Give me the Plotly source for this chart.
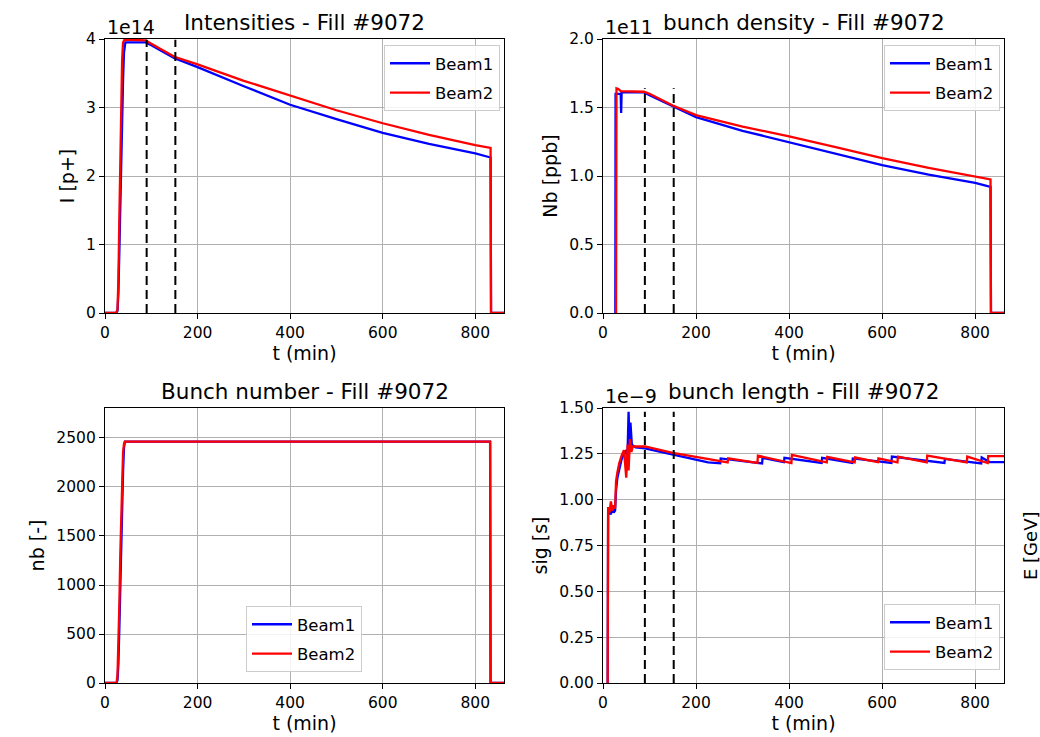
import plotly.graph_objects as go

# ---------------- data ----------------
FILL = "9072"
x_ticks = [0, 200, 400, 600, 800]
t_markers = [90, 152]            # dashed vertical markers (min)

# Intensities (units of 1e14 p+)
t_int_b1 = [0, 24, 27, 29, 31, 33, 35, 37, 39, 41, 44, 88, 100, 150, 200, 300, 400, 500, 600, 700, 800, 833, 834, 862]
int_b1 = [0, 0, 0.03, 0.3, 0.9, 1.6, 2.3, 2.9, 3.4, 3.8, 3.95, 3.95, 3.91, 3.72, 3.59, 3.31, 3.04, 2.83, 2.63, 2.47, 2.33, 2.27, 0, 0]
t_int_b2 = [0, 24, 27, 29, 31, 33, 35, 37, 39, 42, 88, 100, 150, 200, 300, 400, 500, 600, 700, 800, 833, 834, 862]
int_b2 = [0, 0, 0.05, 0.5, 1.4, 2.3, 3.1, 3.7, 3.95, 3.99, 3.98, 3.93, 3.74, 3.63, 3.39, 3.17, 2.96, 2.77, 2.60, 2.45, 2.41, 0, 0]

# Bunch density (units of 1e11 ppb)
t_nb_b1 = [26.5, 27, 38, 39, 40, 88, 100, 150, 200, 300, 400, 500, 600, 700, 800, 833, 834, 862]
dens_b1 = [0, 1.60, 1.60, 1.46, 1.61, 1.61, 1.59, 1.51, 1.43, 1.33, 1.245, 1.16, 1.08, 1.01, 0.95, 0.92, 0, 0]
t_nb_b2 = [28, 29, 33, 38, 88, 100, 150, 200, 300, 400, 500, 600, 700, 800, 833, 834, 862]
dens_b2 = [0, 1.64, 1.635, 1.62, 1.615, 1.60, 1.515, 1.445, 1.36, 1.29, 1.21, 1.13, 1.06, 1.00, 0.975, 0, 0]

# Bunch number
t_n_b1 = [0, 25, 27, 29, 31, 33, 35, 37, 39, 41, 43, 832, 833, 862]
num_b1 = [0, 0, 30, 200, 560, 1000, 1500, 1800, 2150, 2400, 2462, 2462, 0, 0]
t_n_b2 = [0, 25, 27, 29, 31, 33, 35, 37, 39, 41, 43, 832, 833, 862]
num_b2 = [0, 0, 80, 350, 800, 1300, 1750, 2100, 2350, 2440, 2462, 2462, 0, 0]

# Bunch length (units of 1e-9 s)
t_bl_b1 = [10, 11, 14, 17, 20, 23, 26, 28, 31, 35, 40, 45, 50, 52, 55, 57, 59, 62, 66, 70, 90, 151, 226,
           252, 253, 342, 343, 389, 390, 470, 471, 536, 537, 620, 621, 734, 735, 813, 814, 831, 862]
bl_b1 = [0, 0.92, 0.93, 0.92, 0.95, 0.93, 0.94, 1.05, 1.12, 1.17, 1.22, 1.25, 1.27, 1.18, 1.48, 1.30, 1.42, 1.30, 1.29, 1.285, 1.28, 1.245, 1.203,
         1.198, 1.225, 1.198, 1.228, 1.205, 1.228, 1.200, 1.228, 1.200, 1.225, 1.200, 1.235, 1.200, 1.222, 1.198, 1.230, 1.205, 1.205]
t_bl_b2 = [10, 11, 14, 17, 20, 23, 26, 28, 31, 35, 40, 45, 50, 53, 55, 58, 61, 64, 70, 90, 150, 226,
           268, 269, 332, 333, 405, 406, 481, 482, 541, 542, 591, 592, 633, 634, 696, 697, 782, 783, 827, 828, 862]
bl_b2 = [0, 0.96, 0.93, 0.99, 0.94, 0.97, 0.95, 1.10, 1.15, 1.20, 1.24, 1.27, 1.12, 1.30, 1.16, 1.33, 1.26, 1.29, 1.29, 1.29, 1.255, 1.222,
         1.203, 1.225, 1.200, 1.240, 1.200, 1.244, 1.203, 1.233, 1.203, 1.230, 1.205, 1.225, 1.203, 1.235, 1.203, 1.240, 1.203, 1.235, 1.200, 1.237, 1.237]

panels = [
    dict(title="Intensities - Fill #" + FILL, ylabel="I [p+]", offset="1e14",
         b1=(t_int_b1, int_b1), b2=(t_int_b2, int_b2), yrange=[0, 4], ytick=[0, 1, 2, 3, 4], fmt="d", markers=True),
    dict(title="bunch density - Fill #" + FILL, ylabel="Nb [ppb]", offset="1e11",
         b1=(t_nb_b1, dens_b1), b2=(t_nb_b2, dens_b2), yrange=[0, 2.0], ytick=[0, 0.5, 1.0, 1.5, 2.0], fmt=".1f", markers=True),
    dict(title="Bunch number - Fill #" + FILL, ylabel="nb [-]", offset="",
         b1=(t_n_b1, num_b1), b2=(t_n_b2, num_b2), yrange=[0, 2806], ytick=[0, 500, 1000, 1500, 2000, 2500], fmt="d", markers=False),
    dict(title="bunch length - Fill #" + FILL, ylabel="sig [s]", offset="1e\u22129",
         b1=(t_bl_b1, bl_b1), b2=(t_bl_b2, bl_b2), yrange=[0, 1.5], ytick=[0, 0.25, 0.5, 0.75, 1.0, 1.25, 1.5], fmt=".2f", markers=True),
]

# ---------------- layout geometry (pixels) ----------------
W, H = 1040, 737
x_dom_px = [(105, 504), (603, 1004), (105, 504), (603, 1004)]
y_dom_px = [(39, 313), (39, 313), (408, 683), (408, 683)]
legend_pos = [
    dict(x=500 / W, xanchor="right", y=1 - 45 / H, yanchor="top"),
    dict(x=1000 / W, xanchor="right", y=1 - 45 / H, yanchor="top"),
    dict(x=304 / W, xanchor="center", y=1 - 672 / H, yanchor="bottom"),
    dict(x=1000 / W, xanchor="right", y=1 - 670 / H, yanchor="bottom"),
]

FONT = "DejaVu Sans"
BLUE, RED = "#0000ff", "#ff0000"

fig = go.Figure()
layout = dict(width=W, height=H, margin=dict(l=0, r=0, t=0, b=0),
              paper_bgcolor="white", plot_bgcolor="white",
              font=dict(family=FONT, size=15, color="black"), showlegend=True)
annotations = []

for i, p in enumerate(panels):
    n = i + 1
    xa = "x" if n == 1 else f"x{n}"
    ya = "y" if n == 1 else f"y{n}"
    lg = "legend" if n == 1 else f"legend{n}"
    for name, key, col in (("Beam1", "b1", BLUE), ("Beam2", "b2", RED)):
        tx, vy = p[key]
        fig.add_trace(go.Scatter(x=tx, y=vy, mode="lines", name=name,
                                 line=dict(color=col, width=2.3),
                                 xaxis=xa, yaxis=ya, legend=lg,
                                 legendgroup=f"{n}{name}"))
    if p["markers"]:
        ymax = max(max(p["b1"][1]), max(p["b2"][1]))
        for tm in t_markers:
            fig.add_trace(go.Scatter(x=[tm, tm], y=[0, ymax], mode="lines",
                                     line=dict(color="black", width=2, dash="9px,5px"),
                                     xaxis=xa, yaxis=ya, showlegend=False, hoverinfo="skip"))
    x0, x1 = x_dom_px[i]
    y0, y1 = y_dom_px[i]
    axis_common = dict(showline=True, linecolor="black", linewidth=1.2, mirror=True,
                       ticks="outside", ticklen=5, tickwidth=1.2, tickcolor="black",
                       showgrid=True, gridcolor="#b0b0b0", gridwidth=1, zeroline=False,
                       automargin=False, tickfont=dict(family=FONT, size=15.5))
    layout["xaxis" if n == 1 else f"xaxis{n}"] = dict(
        axis_common, domain=[x0 / W, x1 / W], range=[0, 862], tickvals=x_ticks,
        anchor=ya, title=dict(text="t (min)", standoff=3, font=dict(family=FONT, size=19)))
    layout["yaxis" if n == 1 else f"yaxis{n}"] = dict(
        axis_common, domain=[1 - y1 / H, 1 - y0 / H], range=p["yrange"], tickvals=p["ytick"],
        tickformat=p["fmt"], anchor=xa,
        title=dict(text=p["ylabel"], standoff=6, font=dict(family=FONT, size=19)))
    layout[lg] = dict(legend_pos[i], bgcolor="rgba(255,255,255,0.85)", bordercolor="#cccccc",
                      borderwidth=1, font=dict(family=FONT, size=16.5), tracegroupgap=5,
                      itemwidth=40)
    annotations.append(dict(text=p["title"], x=(x0 + x1) / 2 / W, y=1 - (y0 - 2) / H,
                            xref="paper", yref="paper", xanchor="center", yanchor="bottom",
                            showarrow=False, font=dict(family=FONT, size=21.5)))
    if p["offset"]:
        annotations.append(dict(text=p["offset"], x=x0 / W, y=1 - (y0 + 1) / H,
                                xref="paper", yref="paper", xanchor="left", yanchor="bottom",
                                showarrow=False, font=dict(family=FONT, size=19)))

# label of a twin axis at the right edge (partly cut in the original)
annotations.append(dict(text="E [GeV]", x=1030 / W, y=1 - 546 / H, xref="paper", yref="paper",
                        xanchor="center", yanchor="middle", textangle=-90, showarrow=False,
                        font=dict(family=FONT, size=18)))

layout["annotations"] = annotations
fig.update_layout(**layout)
fig.write_html("out.html", config={"displayModeBar": False},
               post_script="document.body.style.margin='0px';document.body.style.overflow='hidden';")
